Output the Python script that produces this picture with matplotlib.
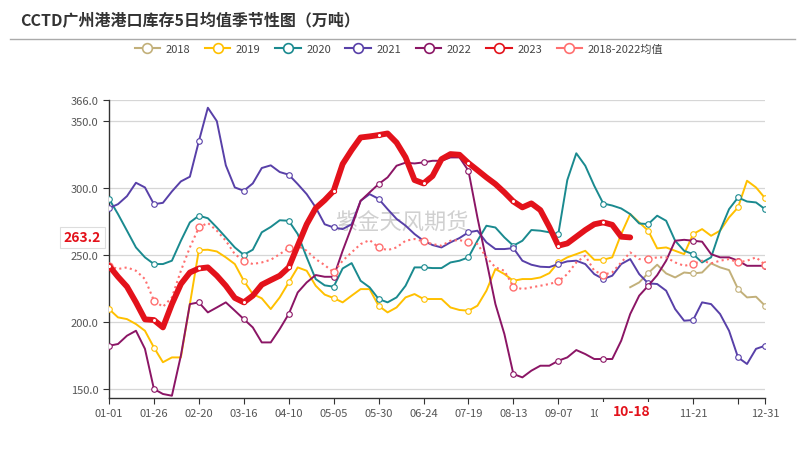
import numpy as np
import pandas as pd
import matplotlib
matplotlib.use("Agg")
import matplotlib.pyplot as plt
from matplotlib.lines import Line2D
from matplotlib.patches import Rectangle

plt.rcParams['font.family'] = ['Noto Sans CJK SC', 'DejaVu Sans']

# day of year (leap-year axis), one value every 5 days
days = np.arange(1, 367, 5)
nan = np.nan

y2018 = [nan] * 58 + [226, 229.6, 236.5, 242.8, 236.3, 233.3, 237, 236.3, 237, 243.8,
                      240.8, 238.8, 224.6, 218.4, 218.9, 212.2]

y2019 = [209.7, 203.5, 202.2, 198.5, 193.5, 181, 170, 173.6, 173.6, 213.4,
         253.7, 254, 252.7, 248.3, 243.3, 230.8, 220.9, 217.7, 209.7, 218.4,
         229.6, 240.8, 238.3, 227.1, 220.5, 217.9, 214.7, 219.7, 224.6, 224.6,
         212.2, 207.2, 210.9, 218.4, 220.9, 217.2, 217.2, 217.2, 210.9, 209,
         208.5, 212.2, 223.4, 239.6, 235.8, 230.8, 232.1, 232.1, 233.3, 236.5,
         244.5, 248.3, 250.7, 253.2, 246.5, 246.5, 248.3, 265.7, 280.6, 274.4,
         268.2, 255, 255.7, 253.2, 250.7, 265.7, 269.4, 264.4, 268.2, 278.1,
         285.6, 305.5, 300.5, 292.5]

y2020 = [292, 280.6, 268.2, 255.7, 248.3, 243.3, 243.3, 245.8, 260.7, 274.4,
         279.4, 277.5, 270.6, 263.2, 255.7, 250.2, 254, 267, 271, 276,
         275.6, 265.7, 248.3, 232.1, 227.4, 226.4, 240, 244, 230.8, 225.9,
         217.2, 214.7, 218.4, 227.1, 240.8, 240.8, 240.3, 240.3, 244.5, 245.8,
         248.3, 260.7, 271.9, 270.6, 263.2, 257, 260.7, 268.7, 268.2, 267,
         265.7, 306, 326, 316.7, 301.7, 288.5, 287, 284.8, 280.6, 273.6,
         273.1, 279.4, 275.6, 260.7, 253.2, 250.7, 244.5, 248.3, 268.2, 284.3,
         293, 290, 289.3, 284.3]

y2021 = [285, 288, 294, 304, 300.5, 288, 289, 297.5, 305, 308.5,
         335, 360, 350, 317, 300.5, 298, 303.5, 315, 317, 312,
         310, 303, 295.5, 285.6, 273, 270.6, 269.4, 273, 290.5, 295.5,
         292, 284.3, 277, 272, 265.7, 260.7, 257.5, 255.7, 259.5, 262.7,
         267, 268.2, 259.5, 254.5, 254.5, 255.2, 245.8, 242.8, 241.3, 241,
         243.3, 245.3, 245.8, 243.3, 235.8, 232.1, 234.6, 243.3, 247, 235.8,
         228.9, 228.4, 223.4, 209.7, 201, 201.5, 214.7, 213.4, 206, 193.5,
         173.6, 168.7, 180, 182.3]

y2022 = [182.3, 183.6, 189.8, 193.5, 180, 150, 146.3, 145, 175, 213.4,
         214.7, 207.2, 210.9, 214.7, 208.5, 202.2, 196, 184.8, 184.8, 194.8,
         206, 222.1, 229.6, 235.1, 233.8, 233.8, 253.2, 271, 290.5, 296.8,
         303, 308, 316.7, 319, 318.4, 319.2, 320.4, 320.4, 322.9, 322.9,
         313, 278, 245.8, 213.4, 191, 161.2, 158.7, 163.7, 167.4, 167.4,
         171.1, 173.6, 179.1, 176.1, 172.4, 172.4, 172.4, 186.1, 206, 219.7,
         227.1, 235, 245.8, 260.7, 261.4, 260.7, 260, 250.7, 248.3, 248.3,
         245.8, 242, 242, 242]

y2023 = [242, 233.8, 226.4, 214.7, 202, 201.5, 196, 213.4, 228.4, 237,
         240, 240.8, 234.6, 227.1, 218, 214.7, 219.7, 227.9, 231.3, 234.6,
         240.8, 257, 273, 285, 291, 298, 318, 328.4, 337.8, 338.6,
         339.6, 340.8, 334, 323, 306, 303.5, 309, 321.6, 325.4, 324.9,
         318.7, 313.4, 308, 303, 296.8, 290, 285.6, 288.6, 283.6, 271,
         257, 258.7, 263.7, 268.7, 273, 274.4, 272.6, 263.7, 263.2] + [nan] * 15

y_mean = [242, 239.6, 240.8, 238.3, 232.1, 216, 211.4, 218.4, 238.3, 255.7,
          270.6, 274, 268.2, 260.7, 250.7, 245.8, 243.3, 244.5, 246.5, 250.7,
          255.2, 257, 253.2, 247, 242.5, 237.1, 245.8, 252, 258.2, 261.2,
          255.7, 253.7, 255.7, 260.7, 262, 260.2, 258.2, 257, 260.7, 261.2,
          259.5, 258.2, 248.3, 240.8, 238.3, 226.4, 224.6, 225.9, 227.1, 228.4,
          230.3, 235.8, 244.5, 249.5, 238.3, 235.3, 237.1, 244.5, 252, 247,
          247, 248.3, 248.3, 244.5, 242, 243.3, 245.8, 243.8, 245.8, 247,
          244.5, 245.8, 248.3, 242.8]

last_value = 263.2
last_day = 292

names = ['2018', '2019', '2020', '2021', '2022', '2023', '2018-2022均值']
colors = ['#C2B07A', '#FFC000', '#1A8A8F', '#5840A8', '#8B1565', '#E3121B', '#FF6F6F']
series = [y2018, y2019, y2020, y2021, y2022, y2023, y_mean]

fig = plt.figure(figsize=(8.06, 4.6), dpi=100)
ax = fig.add_axes([109 / 806, 1 - 399 / 460, 656 / 806, 298.3 / 460])

mk = list(range(0, 74, 5)) + [73]
for name, c, ys in zip(names, colors, series):
    ys = np.array(ys, dtype=float)
    if name == '2023':
        ax.plot(days, ys, color=c, lw=4.2, zorder=6, solid_capstyle='round',
                marker='o', ms=3, mfc='white', mec=c, mew=0.8, markevery=mk)
    elif name == '2018-2022均值':
        ax.plot(days, ys, color=c, lw=1.5, ls=(0, (1, 1.6)), zorder=4,
                marker='o', ms=5, mfc='white', mec=c, mew=1.0, markevery=mk)
    else:
        ax.plot(days, ys, color=c, lw=1.4, zorder=3,
                marker='o', ms=4, mfc='white', mec=c, mew=0.8, markevery=mk)

ax.set_xlim(1, 366)
ax.set_ylim(143.3, 366)

yt = [150, 200, 250, 300, 350, 366]
ax.set_yticks(yt)
ax.set_yticklabels([f'{v:.1f}' for v in yt])
ax.grid(axis='y', color='#d6d6d6', lw=0.9)
ax.set_axisbelow(True)

xt = list(range(1, 352, 25)) + [366]
base = pd.Timestamp(2020, 1, 1)
xl = []
for d in xt:
    lab = (base + pd.Timedelta(days=d - 1)).strftime('%m-%d')
    if d in (301, 351):
        lab = ''
    xl.append(lab)
ax.set_xticks(xt)
ax.set_xticklabels(xl)

for s in ['top', 'right']:
    ax.spines[s].set_visible(False)
for s in ['left', 'bottom']:
    ax.spines[s].set_color('#333333')
    ax.spines[s].set_linewidth(1.0)
ax.tick_params(axis='both', colors='#333333', labelcolor='#555555', labelsize=8,
               length=4, width=0.8)
ax.tick_params(axis='x', pad=3)

# last value label on y axis
ax.text(-0.012, last_value, f'{last_value:.1f}', transform=ax.get_yaxis_transform(),
        ha='right', va='center', color='#E3121B', fontsize=10, fontweight='bold',
        bbox=dict(boxstyle='square,pad=0.25', fc='white', ec='#dddddd', lw=0.8))

# current date label on x axis, drawn over part of the 10-02 label
fig.add_artist(Rectangle((598 / 806, 1 - 422 / 460), 62 / 806, 19 / 460,
                         transform=fig.transFigure, fc='white', ec='none', zorder=5))
x_fig = fig.transFigure.inverted().transform(ax.transData.transform((last_day, 200)))[0]
fig.text(x_fig, 1 - 412 / 460, '10-18', ha='center', va='center', color='#E3121B',
         fontsize=10, fontweight='bold', zorder=7)

# watermark
ax.text(0.4466, 0.59, '紫金天风期货', transform=ax.transAxes, ha='center', va='center',
        fontsize=16, color='#c8c8c8', alpha=0.85, zorder=1)

# title and rule
fig.text(20 / 806, 1 - 21 / 460, 'CCTD广州港港口库存5日均值季节性图（万吨）',
         fontsize=11.5, fontweight='bold', color='#333333', ha='left', va='center')
fig.add_artist(Line2D([10 / 806, 795 / 806], [1 - 40 / 460, 1 - 40 / 460],
                      transform=fig.transFigure, color='#aaaaaa', lw=1))

handles = [Line2D([0], [0], color=c, lw=1.5, marker='o', ms=7, mfc='white', mec=c, mew=1.2)
           for c in colors]
fig.legend(handles, names, loc='center', bbox_to_anchor=(0.495, 1 - 50 / 460), ncol=7,
           frameon=False, fontsize=8, handlelength=2.3, handletextpad=0.5,
           columnspacing=1.3, labelcolor='#444444')

fig.savefig('out.png', dpi=100)
